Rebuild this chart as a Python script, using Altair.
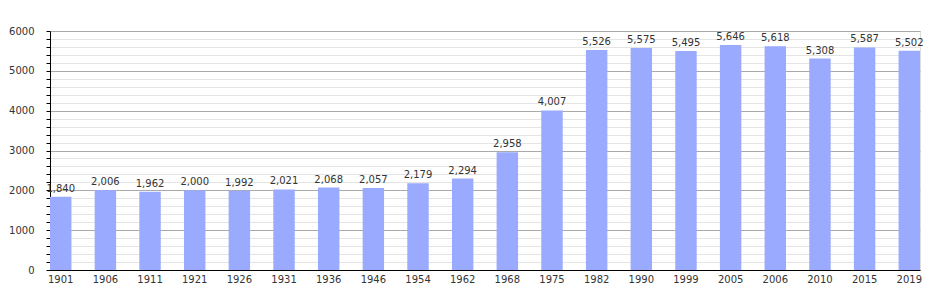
import altair as alt
import pandas as pd

years = ["1901", "1906", "1911", "1921", "1926", "1931", "1936", "1946", "1954", "1962",
         "1968", "1975", "1982", "1990", "1999", "2005", "2006", "2010", "2015", "2019"]
population = [1840, 2006, 1962, 2000, 1992, 2021, 2068, 2057, 2179, 2294,
              2958, 4007, 5526, 5575, 5495, 5646, 5618, 5308, 5587, 5502]
y_tick_values = list(range(0, 6001, 200))

df = pd.DataFrame({"year": years, "pop": population})

font = "DejaVu Sans"

x = alt.X("year:N", sort=None, title=None,
          scale=alt.Scale(paddingInner=0.52, paddingOuter=0),
          axis=alt.Axis(labelAngle=0, ticks=False, domainColor="#000000",
                        labelFont=font, labelFontSize=10, labelColor="#333333",
                        labelPadding=4, grid=False))

y = alt.Y("pop:Q", title=None,
          scale=alt.Scale(domain=[0, 6000], nice=False, zero=True),
          axis=alt.Axis(values=y_tick_values, format="d",
                        labelExpr="datum.value % 1000 === 0 ? datum.label : ''",
                        gridColor={"condition": {"test": "datum.value % 1000 === 0", "value": "#aaaaaa"},
                                   "value": "#e4e4e4"},
                        gridWidth=1,
                        tickColor="#000000", tickSize=4,
                        domainColor="#000000",
                        labelFont=font, labelFontSize=10, labelColor="#333333",
                        labelPadding=12, labelOverlap=False))

bars = alt.Chart().mark_bar(color="#99aaff")

labels = alt.Chart().mark_text(baseline="bottom", dy=-3, font=font, fontSize=10,
                               color="#333333").encode(
    text=alt.Text("pop:Q", format=","))

chart = alt.layer(bars, labels, data=df).encode(x=x, y=y).properties(
    width=870, height=239,
    autosize=alt.AutoSizeParams(type="none"),
    padding={"left": 50, "top": 31, "right": 30, "bottom": 30},
).configure_view(stroke=None).configure(background="white")

chart.save("out.html", embed_options={"renderer": "svg", "actions": False})
